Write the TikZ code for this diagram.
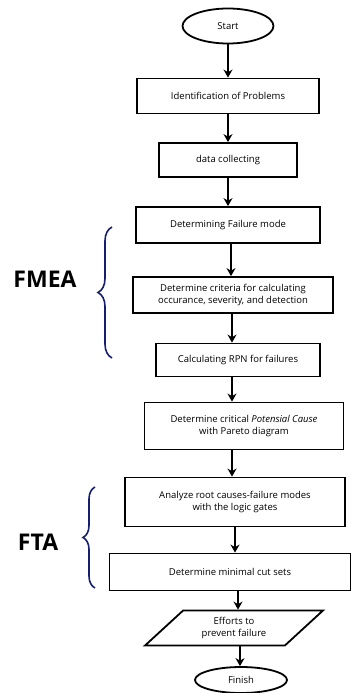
\documentclass[tikz,border=0pt]{standalone}
\usepackage{fontspec}
\setmainfont{Open Sans}
\usepackage{tikz}
\usetikzlibrary{positioning,shapes,arrows,arrows.meta,decorations.pathreplacing}
\definecolor{bracenavy}{RGB}{22,30,110}
\tikzstyle{pr}=[%
      rectangle, draw=black, line width=1.8pt, fill=none,
      minimum height=35pt, inner sep=3pt, align=center,
      font=\fontsize{9.5}{12.5}\selectfont
]
\tikzstyle{tm}=[%
      ellipse, draw=black, line width=1.8pt, fill=none,
      inner sep=1pt, font=\fontsize{9.5}{12.5}\selectfont
]
\tikzstyle{io}=[%
      trapezium, trapezium left angle=44, trapezium right angle=136,
      trapezium stretches=true, draw=black, line width=1.8pt,
      inner sep=1pt, align=center, font=\fontsize{9.5}{12.5}\selectfont
]
\tikzstyle{br}=[%
      -, draw=bracenavy, line width=1.6pt,
      decorate, decoration={brace, amplitude=14pt}
]
\tikzstyle{lb}=[%
      font=\fontsize{23}{27}\selectfont\bfseries
]

\begin{document}
\begin{tikzpicture}[x=1pt, y=-1pt,
    ->,
    >={Stealth[length=8pt,width=9pt]},
    line width=1.8pt
  ]
    \useasboundingbox (0,0) rectangle (351,693);

    \node[tm, minimum width=91pt, minimum height=35pt] (start) at (228,26) {Start};
    \node[pr, minimum width=182pt] (ident) at (228,96) {Identification of Problems};
    \node[pr, minimum width=138pt, minimum height=34pt] (data) at (228,160) {data collecting};
    \node[pr, minimum width=184pt, minimum height=36pt] (fmode) at (228,225) {Determining Failure mode};
    \node[pr, minimum width=200pt, minimum height=36pt] (crit) at (233,295)
        {Determine criteria for calculating\\occurance, severity, and detection};
    \node[pr, minimum width=164pt, minimum height=33pt] (rpn) at (238,360) {Calculating RPN for failures};
    \node[pr, minimum width=199pt, minimum height=47pt] (pareto) at (244,426)
        {Determine critical \textit{Potensial Cause}\\with Pareto diagram};
    \node[pr, minimum width=220pt, minimum height=49pt] (gates) at (235,502)
        {Analyze root causes-failure modes\\with the logic gates};
    \node[pr, minimum width=241pt, minimum height=37pt] (cuts) at (230,572) {Determine minimal cut sets};
    \node[io, minimum width=178pt, minimum height=35pt] (effort) at (234,628)
        {Efforts to\\prevent failure};
    \node[tm, minimum width=92pt, minimum height=26pt] (finish) at (241,680) {Finish};

    \node[lb] (fmea) at (45,279) {FMEA};
    \node[lb] (fta) at (38,542) {FTA};
    \coordinate (fmeaB) at (112,358);
    \coordinate (fmeaT) at (112,227);
    \coordinate (ftaB) at (95,588);
    \coordinate (ftaT) at (95,487);

    \draw (start) -- (ident);
    \draw (ident) -- (data);
    \draw (data) -- (fmode);
    \draw ([xshift=3pt]fmode.south) -- ([xshift=3pt]fmode.south |- crit.north);
    \draw ([xshift=-1pt]crit.south) -- ([xshift=-1pt]crit.south |- rpn.north);
    \draw ([xshift=-6pt]rpn.south) -- ([xshift=-6pt]rpn.south |- pareto.north);
    \draw ([xshift=-12pt]pareto.south) -- ([xshift=-12pt]pareto.south |- gates.north);
    \draw (gates.south) -- (gates.south |- cuts.north);
    \draw ([xshift=8pt]cuts.south) -- ([xshift=8pt]cuts.south |- effort.north);
    \draw ([xshift=6pt]effort.south) -- ([xshift=6pt]effort.south |- finish.north);

    \draw[br] (fmeaB) -- (fmeaT);
    \draw[br, decoration={brace, amplitude=12pt}] (ftaB) -- (ftaT);

  \end{tikzpicture}
\end{document}
